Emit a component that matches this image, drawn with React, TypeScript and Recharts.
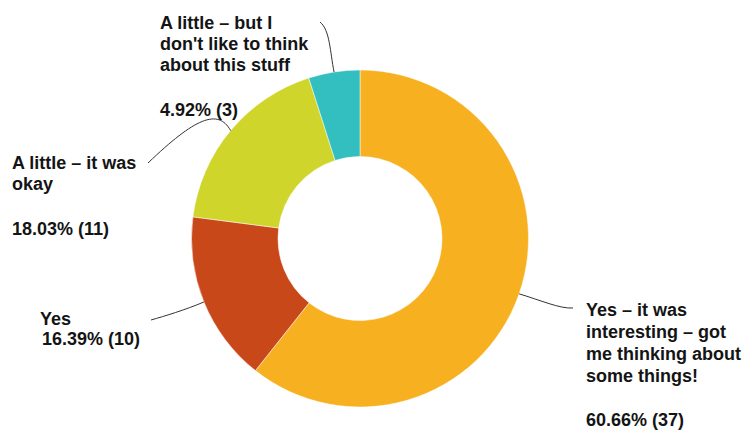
import React from "react";
import { PieChart, Pie, Cell } from "recharts";

const categories = [
  "Yes – it was interesting – got me thinking about some things!",
  "Yes",
  "A little – it was okay",
  "A little – but I don't like to think about this stuff",
];
const counts = [37, 10, 11, 3];
const percentLabels = ["60.66% (37)", "16.39% (10)", "18.03% (11)", "4.92% (3)"];
const colors = ["#F6B020", "#C9481A", "#CFD52A", "#33BEBF"];

// label text lines per slice
const labelLines = [
  ["Yes – it was", "interesting – got", "me thinking about", "some things!"],
  ["Yes"],
  ["A little – it was", "okay"],
  ["A little – but I", "don't like to think", "about this stuff"],
];

// layout: text origin, line step, percent line, leader end & controls
const labelLayout = [
  { x: 586, y: 316, step: 22, pctY: 426, end: [573, 308], c1: [540, 300], c2: [560, 309] },
  { x: 40, y: 325, step: 20, pctY: 345, pctX: 42, end: [151, 320], c1: [185, 310], c2: [165, 316] },
  { x: 12, y: 169, step: 21, pctY: 235, end: [148, 163], c1: [218, 108], c2: [195, 118] },
  { x: 160, y: 29, step: 21, pctY: 116, end: [320, 22], c1: [330, 52], c2: [330, 30] },
];

const data = categories.map((name, i) => ({ name, value: counts[i] }));

const RADIAN = Math.PI / 180;

const renderLabel = (props: any) => {
  const { cx, cy, midAngle, outerRadius, index } = props;
  const sx = cx + outerRadius * Math.cos(-midAngle * RADIAN);
  const sy = cy + outerRadius * Math.sin(-midAngle * RADIAN);
  const L = labelLayout[index];
  const lines = labelLines[index];
  const d = `M${sx},${sy} C${L.c1[0]},${L.c1[1]} ${L.c2[0]},${L.c2[1]} ${L.end[0]},${L.end[1]}`;
  return (
    <g key={`lbl-${index}`}>
      <path d={d} fill="none" stroke="#333" strokeWidth={1} />
      <text
        fontFamily="'Liberation Sans', Arial, sans-serif"
        fontWeight="bold"
        fontSize={18}
        fill="#141414"
      >
        {lines.map((t, i) => (
          <tspan key={i} x={L.x} y={L.y + i * L.step}>
            {t}
          </tspan>
        ))}
        <tspan x={(L as any).pctX ?? L.x} y={L.pctY}>
          {percentLabels[index]}
        </tspan>
      </text>
    </g>
  );
};

export default function App() {
  return (
    <div style={{ position: "absolute", left: 0, top: 0, width: 746, height: 430, background: "#fff" }}>
      <PieChart width={746} height={430} margin={{ top: 0, right: 0, bottom: 0, left: 0 }}>
        <Pie
          data={data}
          dataKey="value"
          nameKey="name"
          cx={360}
          cy={238.5}
          innerRadius={82}
          outerRadius={168.5}
          startAngle={90}
          endAngle={-270}
          stroke="#fff"
          strokeWidth={0.5}
          label={renderLabel}
          labelLine={false}
          isAnimationActive={false}
        >
          {data.map((_, i) => (
            <Cell key={i} fill={colors[i]} />
          ))}
        </Pie>
      </PieChart>
    </div>
  );
}
